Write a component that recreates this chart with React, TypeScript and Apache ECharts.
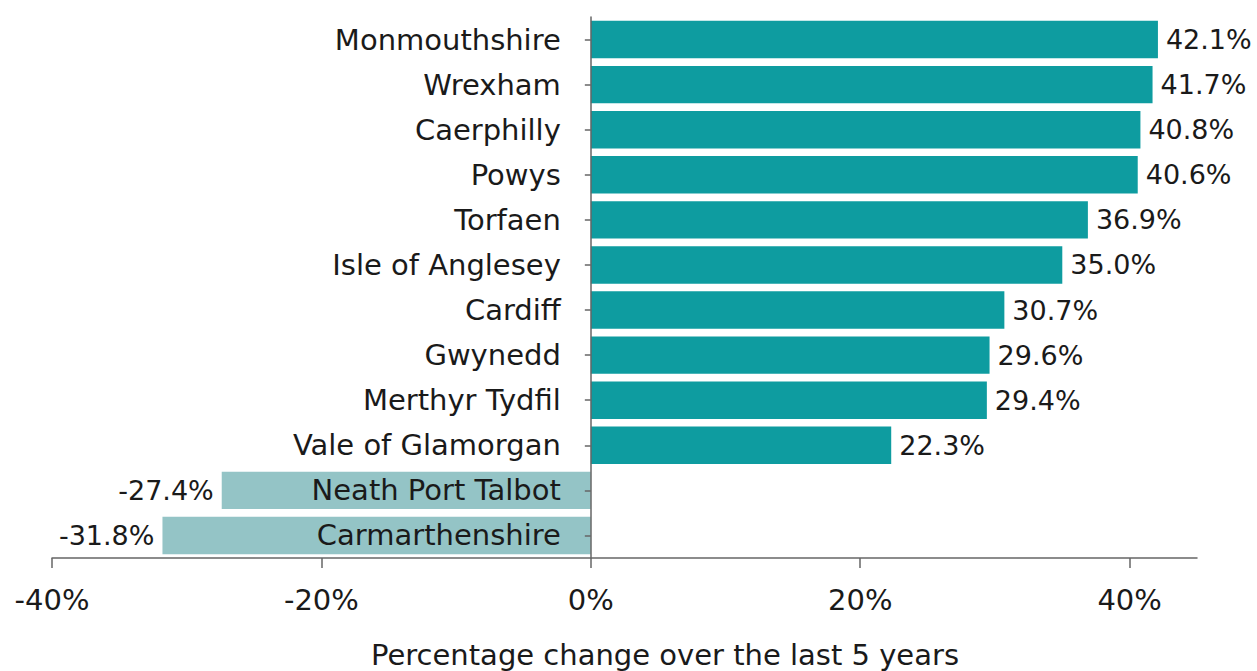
import React, { useEffect, useRef } from "react";
import * as echarts from "echarts";

const categories = [
  "Monmouthshire",
  "Wrexham",
  "Caerphilly",
  "Powys",
  "Torfaen",
  "Isle of Anglesey",
  "Cardiff",
  "Gwynedd",
  "Merthyr Tydfil",
  "Vale of Glamorgan",
  "Neath Port Talbot",
  "Carmarthenshire",
];
const values = [42.1, 41.7, 40.8, 40.6, 36.9, 35.0, 30.7, 29.6, 29.4, 22.3, -27.4, -31.8];
const xTicks = [-40, -20, 0, 20, 40];
const axisTitle = "Percentage change over the last 5 years";

const FONT = "'DejaVu Sans', sans-serif";
const FS = 29;
const VFS = 27;
const POS = "#0e9ca0";
const NEG = "#94c4c6";

export default function App() {
  const ref = useRef<HTMLDivElement>(null);
  useEffect(() => {
    if (!ref.current) return;
    const chart = echarts.init(ref.current, undefined, { renderer: "svg" });
    chart.setOption({
      animation: false,
      grid: { left: 52, right: 60, top: 17, bottom: 113, containLabel: false, outerBoundsMode: "none" },
      xAxis: {
        type: "value",
        min: -40,
        max: 45,
        interval: 20,
        splitLine: { show: false },
        axisLine: { show: true, onZero: false, lineStyle: { color: "#666", width: 1.5 } },
        axisTick: { show: true, length: 10, customValues: xTicks, lineStyle: { color: "#666", width: 1.5 } },
        axisLabel: {
          customValues: xTicks,
          formatter: (v: number) => `${v}%`,
          color: "#1a1a1a",
          fontFamily: FONT,
          fontSize: FS,
          margin: 27,
        },
      },
      yAxis: {
        type: "category",
        data: categories,
        inverse: true,
        z: 10,
        axisLine: { show: true, onZero: true, lineStyle: { color: "#666", width: 1.5 } },
        axisTick: { show: true, alignWithLabel: true, length: 6, lineStyle: { color: "#666", width: 1.5 } },
        axisLabel: { show: false },
      },
      series: [
        {
          type: "bar",
          data: values.map((v) => ({
            value: v,
            itemStyle: { color: v >= 0 ? POS : NEG },
            label: { position: v >= 0 ? "right" : "left" },
          })),
          barCategoryGap: "17%",
          label: {
            show: true,
            distance: 8,
            formatter: (p: any) => `${Number(p.value).toFixed(1)}%`,
            color: "#1a1a1a",
            fontFamily: FONT,
            fontSize: VFS,
          },
        },
        {
          type: "scatter",
          z: 5,
          symbolSize: 0.001,
          silent: true,
          itemStyle: { opacity: 1 },
          data: categories.map((c) => [0, c]),
          label: {
            show: true,
            position: "left",
            distance: 30,
            opacity: 1,
            formatter: (p: any) => categories[p.dataIndex],
            color: "#1a1a1a",
            fontFamily: FONT,
            fontSize: FS,
          },
        },
      ],
      graphic: [
        {
          type: "text",
          x: 665,
          y: 655,
          style: {
            text: axisTitle,
            fill: "#1a1a1a",
            font: `${FS}px ${FONT}`,
            align: "center",
            verticalAlign: "middle",
          },
        },
      ],
    });
    return () => chart.dispose();
  }, []);
  return <div ref={ref} style={{ width: 1257, height: 671, position: "absolute", left: 0, top: 0 }} />;
}
